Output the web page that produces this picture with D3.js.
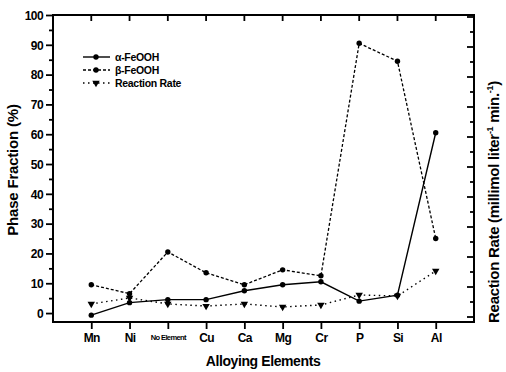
<!DOCTYPE html>
<html><head><meta charset="utf-8">
<script src="https://cdn.jsdelivr.net/npm/d3@7"></script>
<style>body{margin:0;background:#fff}svg{display:block}text{font-family:"Liberation Sans",Arial,sans-serif;font-weight:bold;fill:#000}</style>
</head><body><svg id="c" width="506" height="372"></svg>
<script>
const categories = ["Mn","Ni","No Element","Cu","Ca","Mg","Cr","P","Si","Al"];
const alphaFeOOH = [-0.7, 3.5, 4.5, 4.5, 7.5, 9.5, 10.5, 4.0, 6.0, 60.5];
const betaFeOOH  = [9.5, 6.5, 20.5, 13.5, 9.5, 14.5, 12.5, 90.5, 84.5, 25.0];
const reactionRate = [0.87, 1.27, 0.87, 0.73, 0.87, 0.67, 0.8, 1.47, 1.4, 3.07];
const yTicks = [0,10,20,30,40,50,60,70,80,90,100];
const seriesNames = ["\u03b1-FeOOH","\u03b2-FeOOH","Reaction Rate"];

const svg = d3.select("#c");
const L=53, R=474, T=15, B=322;
const x = d3.scaleLinear().domain([0, categories.length+1]).range([L,R]);
const xc = (i)=>x(i+1);
const y = d3.scaleLinear().domain([-3,100]).range([B,T]);
const yR = d3.scaleLinear().domain([-0.333,20.133]).range([B,T]);

// left axis
const leftAx = d3.axisLeft(y).tickValues(d3.range(0,101,5)).tickSize(0).tickFormat(d=> yTicks.includes(d)? d : "");
const gL = svg.append("g").attr("transform",`translate(${L},0)`).call(leftAx);
gL.select(".domain").remove();
gL.selectAll(".tick line").remove();
gL.selectAll(".tick").append("line").attr("x1",d=>d%10===0?-7:-4).attr("x2",0).attr("stroke","#000").attr("stroke-width",1.8);
gL.selectAll(".tick text").attr("x",-10).attr("dy","0.35em").style("font-size","12px").style("letter-spacing","-0.6px");

// right axis (ticks inward, no labels)
const gR = svg.append("g").attr("transform",`translate(${R},0)`);
gR.selectAll("line").data(d3.range(0,21,1)).join("line")
  .attr("x1",d=>d%2===0?-7:-4).attr("x2",0).attr("y1",d=>yR(d)).attr("y2",d=>yR(d))
  .attr("stroke","#000").attr("stroke-width",1.8);

// bottom axis
const bottomAx = d3.axisBottom(d3.scalePoint().domain(categories).range([xc(0),xc(categories.length-1)])).tickSize(7).tickSizeOuter(0);
const gB = svg.append("g").attr("transform",`translate(0,${B})`).call(bottomAx);
gB.select(".domain").remove();
gB.selectAll(".tick line").attr("stroke-width",1.8);
gB.selectAll(".tick text").attr("y",11).style("font-size",d=>d==="No Element"?"7.5px":"12px").style("letter-spacing","-0.6px")
  .attr("dy",d=>d==="No Element"?"0.95em":"0.71em");
// top axis ticks inward
const gT = svg.append("g");
gT.selectAll("line").data(categories).join("line")
  .attr("x1",(d,i)=>xc(i)).attr("x2",(d,i)=>xc(i)).attr("y1",T).attr("y2",T+6)
  .attr("stroke","#000").attr("stroke-width",1.8);

// frame
svg.append("rect").attr("x",L).attr("y",T).attr("width",R-L).attr("height",B-T)
  .attr("fill","none").attr("stroke","#000").attr("stroke-width",2);

// titles
svg.append("text").attr("x",263).attr("y",366).attr("text-anchor","middle").style("font-size","14px").style("letter-spacing","-0.4px").text("Alloying Elements");
svg.append("text").attr("transform","translate(18,170) rotate(-90)").attr("text-anchor","middle").style("font-size","15px").style("letter-spacing","-0.2px").text("Phase Fraction (%)");
const rt = svg.append("text").attr("transform","translate(499,202) rotate(-90)").attr("text-anchor","middle").style("font-size","15px").style("letter-spacing","-0.3px");
rt.append("tspan").text("Reaction Rate (millimol liter");
rt.append("tspan").attr("dy","-6").style("font-size","9px").text("-1");
rt.append("tspan").attr("dy","6").text(" min.");
rt.append("tspan").attr("dy","-6").style("font-size","9px").text("-1");
rt.append("tspan").attr("dy","6").text(")");

// series
const styles = [
  {data:alphaFeOOH, sc:y, dash:null, w:1.4, marker:"circle"},
  {data:betaFeOOH, sc:y, dash:"3,2", w:1.3, marker:"circle"},
  {data:reactionRate, sc:yR, dash:"1.5,3.5", w:1.4, marker:"tri"}
];
const tri = d3.symbol().type(d3.symbolTriangle).size(24);
styles.forEach(s=>{
  const line = d3.line().x((d,i)=>xc(i)).y(d=>s.sc(d));
  svg.append("path").datum(s.data).attr("d",line).attr("fill","none").attr("stroke","#000")
    .attr("stroke-width",s.w).attr("stroke-dasharray",s.dash);
  const g = svg.append("g");
  s.data.forEach((d,i)=>{
    if(s.marker==="circle") g.append("circle").attr("cx",xc(i)).attr("cy",s.sc(d)).attr("r",2.7).attr("fill","#000");
    else g.append("path").attr("d",tri).attr("transform",`translate(${xc(i)},${s.sc(d)}) rotate(180)`).attr("fill","#000");
  });
});

// legend
const lg = svg.append("g");
const ly = [57,70,83];
styles.forEach((s,k)=>{
  lg.append("line").attr("x1",83).attr("x2",110).attr("y1",ly[k]).attr("y2",ly[k]).attr("stroke","#000")
    .attr("stroke-width",s.w).attr("stroke-dasharray",s.dash);
  if(s.marker==="circle") lg.append("circle").attr("cx",96).attr("cy",ly[k]).attr("r",2.7).attr("fill","#000");
  else lg.append("path").attr("d",tri).attr("transform",`translate(96,${ly[k]}) rotate(180)`).attr("fill","#000");
  lg.append("text").attr("x",115).attr("y",ly[k]).attr("dy","0.35em").style("font-size","10.5px").style("letter-spacing","-0.3px").text(seriesNames[k]);
});
</script></body></html>
